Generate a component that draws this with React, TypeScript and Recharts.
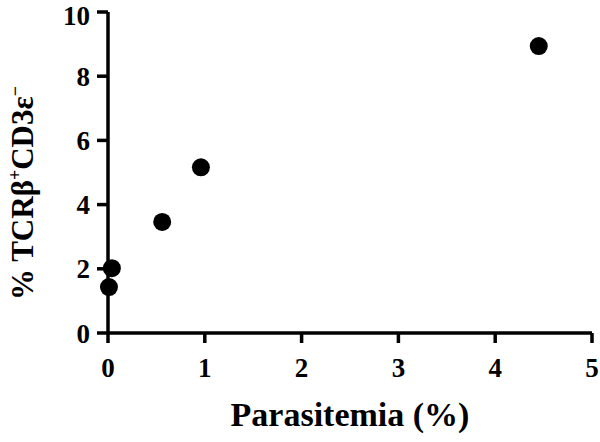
import { ScatterChart, Scatter, XAxis, YAxis } from 'recharts'

const parasitemia = [0.01, 0.04, 0.56, 0.96, 4.45]
const tcrPercent = [1.43, 2.02, 3.46, 5.16, 8.94]
const xTicks = [0, 1, 2, 3, 4, 5]
const yTicks = [0, 2, 4, 6, 8, 10]

const points = parasitemia.map((x, i) => ({ x, y: tcrPercent[i] }))

const font = '"Liberation Serif", "Times New Roman", serif'
const tickStyle = { fontFamily: font, fontWeight: 700, fontSize: 27, fill: '#000' }

const Dot = (props: any) => <circle cx={props.cx} cy={props.cy} r={9} fill="#000" />

const YLabel = () => (
  <text
    transform="translate(33,193) rotate(-90)"
    textAnchor="middle"
    fontFamily={font}
    fontWeight={700}
    fontSize={31}
    fill="#000"
  >
    <tspan>% TCRβ</tspan>
    <tspan fontSize={18} dy={-12}>+</tspan>
    <tspan dy={12}>CD3ε</tspan>
    <tspan fontSize={18} dy={-12}>−</tspan>
  </text>
)

const XLabel = () => (
  <text x={350} y={426} textAnchor="middle" fontFamily={font} fontWeight={700} fontSize={34} fill="#000">
    Parasitemia (%)
  </text>
)

export default function App() {
  return (
    <div style={{ position: 'absolute', left: 0, top: 0, background: '#fff' }}>
      <ScatterChart width={600} height={442} margin={{ top: 12, right: 8, bottom: 0, left: 0 }}>
        <XAxis
          type="number"
          dataKey="x"
          domain={[0, 5]}
          ticks={xTicks}
          height={109}
          stroke="#000"
          strokeWidth={3.5}
          tickSize={10}
          tickMargin={15}
          tick={tickStyle}
          label={<XLabel />}
        />
        <YAxis
          type="number"
          dataKey="y"
          domain={[0, 10]}
          ticks={yTicks}
          width={108}
          stroke="#000"
          strokeWidth={3.5}
          tickSize={11}
          tickMargin={7}
          tick={tickStyle}
          label={<YLabel />}
        />
        <Scatter data={points} fill="#000" shape={Dot} isAnimationActive={false} />
      </ScatterChart>
    </div>
  )
}
